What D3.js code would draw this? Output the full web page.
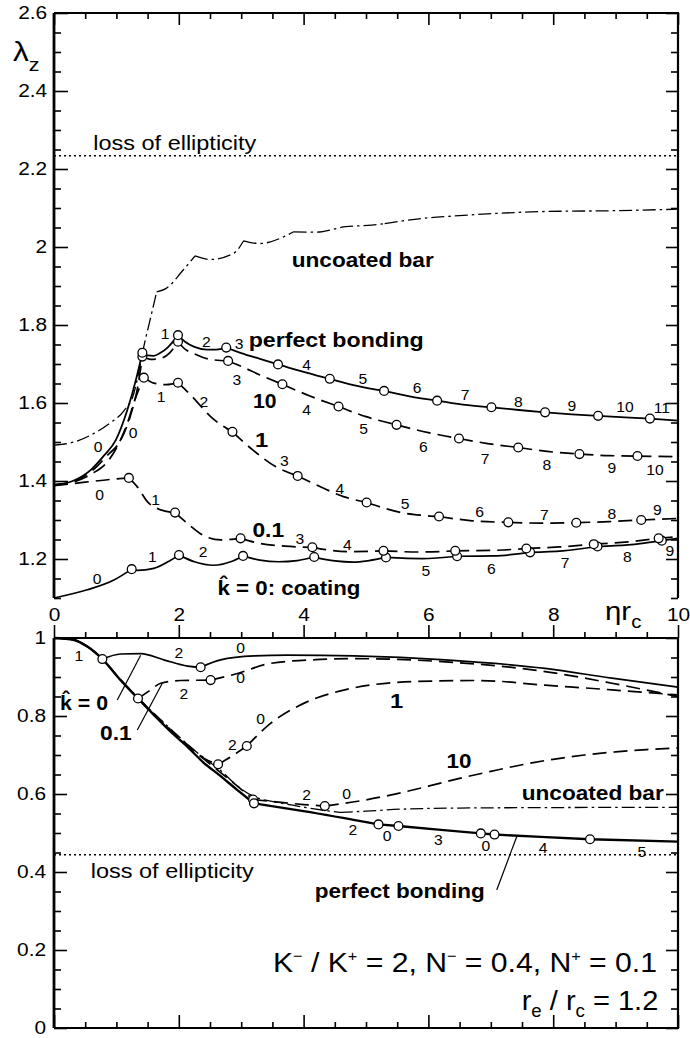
<!DOCTYPE html>
<html>
<head>
<meta charset="utf-8">
<script src="https://cdn.jsdelivr.net/npm/d3@7"></script>
<style>
  html, body { margin: 0; padding: 0; background: #fff; }
  svg { display: block; font-family: "Liberation Sans", Arial, Helvetica, sans-serif; }
</style>
</head>
<body>
<svg id="chart" width="690" height="1038"></svg>
<script>
// ---------- axis ticks ----------
const xTicks = [0, 2, 4, 6, 8, 10];
const yTicksTop = [1.2, 1.4, 1.6, 1.8, 2.0, 2.2, 2.4, 2.6];
const yTicksBottom = [0, 0.2, 0.4, 0.6, 0.8, 1];

// ---------- loss of ellipticity levels ----------
const lossTop = 2.234;
const lossBottom = 0.444;

// ---------- upper panel: lambda_z versus eta*r_c ----------
const topPerfect = [
  [0, 1.39], [0.3, 1.40], [0.6, 1.43], [0.8, 1.465], [0.99, 1.505], [1.175, 1.582], [1.325, 1.667], [1.416, 1.729],
  [1.5, 1.722], [1.6, 1.721], [1.7, 1.728], [1.82, 1.742], [1.92, 1.760], [1.987, 1.774],
  [2.1, 1.757], [2.25, 1.744], [2.45, 1.737], [2.6, 1.737], [2.76, 1.742],
  [3.0, 1.728], [3.3, 1.713], [3.59, 1.699],
  [3.9, 1.684], [4.2, 1.671], [4.42, 1.662],
  [4.8, 1.646], [5.29, 1.631],
  [5.7, 1.617], [6.14, 1.606],
  [6.55, 1.596], [7.01, 1.589],
  [7.45, 1.582], [7.87, 1.576],
  [8.3, 1.571], [8.72, 1.567],
  [9.15, 1.563], [9.55, 1.560],
  [10, 1.555]
];
const topPerfectNodes = [1.416, 1.987, 2.76, 3.59, 4.42, 5.29, 6.14, 7.01, 7.87, 8.72, 9.55];

const topK10 = [
  [0, 1.39], [0.3, 1.398], [0.6, 1.425], [0.85, 1.465], [1.07, 1.505], [1.22, 1.565], [1.34, 1.64], [1.416, 1.719],
  [1.55, 1.712], [1.7, 1.714], [1.85, 1.728], [1.987, 1.757],
  [2.1, 1.738], [2.24, 1.727], [2.5, 1.712], [2.79, 1.708],
  [3.0, 1.694], [3.3, 1.672], [3.66, 1.648],
  [4.1, 1.618], [4.56, 1.591],
  [5.0, 1.565], [5.49, 1.544],
  [6.0, 1.524], [6.49, 1.509],
  [6.95, 1.496], [7.44, 1.486],
  [7.9, 1.476], [8.42, 1.469],
  [8.9, 1.465], [9.35, 1.464],
  [10, 1.462]
];
const topK10Nodes = [1.416, 1.987, 2.79, 3.66, 4.56, 5.49, 6.49, 7.44, 8.42, 9.35];

const topK1 = [
  [0, 1.39], [0.3, 1.397], [0.6, 1.418], [0.88, 1.454], [1.05, 1.50], [1.18, 1.55], [1.3, 1.61], [1.44, 1.665],
  [1.6, 1.651], [1.8, 1.647], [1.987, 1.652],
  [2.1, 1.635], [2.24, 1.612], [2.51, 1.565], [2.86, 1.526],
  [3.19, 1.479], [3.55, 1.437], [3.905, 1.413],
  [4.27, 1.385], [4.64, 1.36], [5.01, 1.345],
  [5.3, 1.33], [5.6, 1.318], [5.9, 1.312], [6.17, 1.309],
  [6.7, 1.298], [7.28, 1.294],
  [7.8, 1.292], [8.37, 1.293],
  [8.9, 1.296], [9.41, 1.300],
  [10, 1.304]
];
const topK1Nodes = [1.44, 1.987, 2.86, 3.905, 5.01, 6.17, 7.28, 8.37, 9.41];

const topK01 = [
  [0, 1.388], [0.5, 1.397], [0.9, 1.404], [1.20, 1.408],
  [1.335, 1.385], [1.496, 1.347], [1.71, 1.326], [1.94, 1.319],
  [2.14, 1.291], [2.40, 1.260], [2.67, 1.249], [2.99, 1.253],
  [3.3, 1.240], [3.7, 1.233], [4.14, 1.230],
  [4.7, 1.219], [5.28, 1.221],
  [5.85, 1.218], [6.43, 1.221],
  [7.0, 1.222], [7.57, 1.227],
  [8.1, 1.231], [8.65, 1.238],
  [9.2, 1.244], [9.69, 1.253],
  [10, 1.257]
];
const topK01Nodes = [1.20, 1.94, 2.99, 4.14, 5.28, 6.43, 7.57, 8.65, 9.69];

const topK0 = [
  [0, 1.1], [0.534, 1.121], [0.96, 1.146], [1.245, 1.174],
  [1.335, 1.171], [1.6, 1.176], [1.87, 1.197], [2.003, 1.210],
  [2.25, 1.193], [2.56, 1.184], [2.83, 1.193], [3.03, 1.208],
  [3.3, 1.197], [3.6, 1.193], [3.9, 1.196], [4.17, 1.205],
  [4.5, 1.195], [4.8, 1.192], [5.05, 1.196], [5.32, 1.204],
  [5.9, 1.201], [6.46, 1.207],
  [7.05, 1.208], [7.63, 1.217],
  [8.15, 1.221], [8.71, 1.232],
  [9.2, 1.236], [9.74, 1.247],
  [10, 1.253]
];
const topK0Nodes = [1.245, 2.003, 3.03, 4.17, 5.32, 6.46, 7.63, 8.71, 9.74];

const topUncoated = [
  [0, 1.492], [0.32, 1.50], [0.64, 1.522], [0.91, 1.55], [1.12, 1.58], [1.28, 1.625], [1.36, 1.68], [1.44, 1.745], [1.54, 1.813], [1.645, 1.885],
  [1.80, 1.894], [2.07, 1.941], [2.26, 1.977],
  [2.51, 1.968], [2.88, 1.984], [3.04, 2.016],
  [3.30, 2.009], [3.68, 2.026], [3.84, 2.039],
  [4.21, 2.038], [4.67, 2.052], [5.09, 2.056], [5.30, 2.060],
  [5.95, 2.074], [6.37, 2.079], [7.07, 2.086], [7.87, 2.091], [8.94, 2.093], [10, 2.097]
];
const topUncoatedKinks = [1.645, 2.26, 3.04, 3.84, 5.30];

// ---------- lower panel ----------
const botPerfect = [
  [0, 1], [0.32, 0.995], [0.534, 0.978], [0.775, 0.946], [1.068, 0.892], [1.346, 0.845], [1.60, 0.803],
  [1.87, 0.760], [2.14, 0.721], [2.40, 0.680], [2.63, 0.651], [2.94, 0.610], [3.205, 0.576],
  [4.0, 0.556], [5.20, 0.522],
  [5.52, 0.518],
  [6.2, 0.508], [6.84, 0.499],
  [7.06, 0.496],
  [7.8, 0.490], [8.59, 0.484],
  [10, 0.478]
];
const botPerfectNodes = [3.205, 5.20, 5.52, 6.84, 7.06, 8.59];

const botK0 = [
  [0, 1], [0.32, 0.995], [0.534, 0.978], [0.775, 0.946],
  [1.068, 0.959], [1.39, 0.960], [1.76, 0.944], [2.14, 0.928], [2.35, 0.925],
  [2.67, 0.944], [3.21, 0.954], [3.74, 0.956], [4.81, 0.954], [6.27, 0.944], [7.87, 0.922], [8.94, 0.897], [10, 0.874]
];
const botK0Nodes = [0.775, 2.35];

const botK01 = [
  [0, 1], [0.32, 0.995], [0.534, 0.978], [0.775, 0.946], [1.068, 0.892], [1.346, 0.845],
  [1.55, 0.867], [1.71, 0.884], [2.03, 0.891], [2.51, 0.892],
  [2.94, 0.909], [3.47, 0.935], [4.27, 0.945], [4.81, 0.947], [6.27, 0.939], [7.87, 0.914], [8.94, 0.884], [10, 0.850]
];
const botK01Nodes = [1.346, 2.51];

const botK1 = [
  [1.346, 0.845], [1.60, 0.805], [1.87, 0.764], [2.14, 0.726], [2.40, 0.692], [2.63, 0.676],
  [2.88, 0.700], [3.09, 0.723],
  [3.47, 0.781], [4.01, 0.833], [4.66, 0.867], [5.73, 0.888], [6.80, 0.891], [7.87, 0.879], [8.94, 0.867], [10, 0.854]
];
const botK1Nodes = [2.63, 3.09];

const botK10 = [
  [1.346, 0.845], [1.60, 0.805], [1.87, 0.764], [2.14, 0.725], [2.40, 0.690], [2.63, 0.660], [2.94, 0.620], [3.19, 0.586],
  [3.6, 0.579], [4.0, 0.573], [4.34, 0.569],
  [5.0, 0.585], [5.5, 0.601], [6.0, 0.620], [6.5, 0.640], [7.0, 0.658], [7.5, 0.675], [8.0, 0.689], [8.5, 0.700], [9.0, 0.708], [9.5, 0.714], [10, 0.718]
];
const botK10Nodes = [3.19, 4.34];

const botUncoated = [
  [1.068, 0.893], [1.346, 0.847], [1.60, 0.807], [1.87, 0.767], [2.14, 0.727], [2.40, 0.693], [2.67, 0.660], [2.99, 0.614], [3.2, 0.594], [3.37, 0.585],
  [3.8, 0.572], [4.2, 0.561], [4.58, 0.553],
  [5.0, 0.556], [5.54, 0.561], [6.5, 0.564], [7.68, 0.565], [10, 0.566]
];
const botUncoatedKinks = [3.37, 4.58];

// ---------- mode numbers written along the branches ----------
const topModeLabels = [
  [0.705, 1.487, "0"], [1.266, 1.523, "0"], [1.78, 1.777, "1"], [2.44, 1.757, "2"], [2.965, 1.753, "3"],
  [4.05, 1.697, "4"], [4.95, 1.662, "5"], [5.82, 1.638, "6"], [6.59, 1.621, "7"], [7.44, 1.603, "8"],
  [8.30, 1.592, "9"], [9.15, 1.590, "10"], [9.74, 1.587, "11"],
  [2.93, 1.659, "3"], [4.05, 1.582, "4"], [4.96, 1.535, "5"], [5.92, 1.488, "6"], [6.91, 1.456, "7"],
  [7.90, 1.441, "8"], [8.94, 1.433, "9"], [9.63, 1.428, "10"],
  [1.715, 1.615, "1"], [2.40, 1.603, "2"], [3.69, 1.452, "3"], [4.58, 1.381, "4"], [5.625, 1.343, "5"],
  [6.82, 1.320, "6"], [7.86, 1.313, "7"], [8.94, 1.317, "8"], [9.67, 1.327, "9"],
  [0.73, 1.364, "0"], [1.63, 1.353, "1"], [3.94, 1.253, "3"], [4.70, 1.237, "4"],
  [0.69, 1.150, "0"], [1.575, 1.206, "1"], [2.39, 1.219, "2"], [5.96, 1.169, "5"], [7.01, 1.176, "6"],
  [8.19, 1.191, "7"], [9.19, 1.206, "8"], [9.87, 1.221, "9"]
];
const botModeLabels = [
  [0.40, 0.954, "1"], [2.00, 0.962, "2"], [2.99, 0.974, "0"],
  [2.08, 0.858, "2"], [2.99, 0.897, "0"],
  [2.86, 0.726, "2"], [3.31, 0.794, "0"],
  [4.05, 0.597, "2"], [4.69, 0.602, "0"],
  [4.79, 0.508, "2"], [5.34, 0.492, "0"], [6.16, 0.482, "3"], [6.92, 0.467, "0"], [7.84, 0.463, "4"], [9.42, 0.452, "5"]
];

// ---------- scales ----------
const svg = d3.select("#chart");
svg.append("rect").attr("width", 690).attr("height", 1038).attr("fill", "#fff");

const x = d3.scaleLinear().domain([0, 10]).range([54, 678]);
const yT = d3.scaleLinear().domain([1.1, 2.6]).range([598, 13]);
const yB = d3.scaleLinear().domain([0, 1]).range([1028, 638]);

const xMinor = d3.range(0, 21).map(i => i / 2).filter(v => !xTicks.includes(v));
const yTopMinor = d3.range(22, 53).map(i => i / 20).filter(v => !yTicksTop.some(t => Math.abs(t - v) < 1e-9));
const yBotMinor = d3.range(0, 21).map(i => i / 20).filter(v => !yTicksBottom.some(t => Math.abs(t - v) < 1e-9));

const TXS = 1.13; // horizontal stretch of the lettering

function styleAxis(g) {
  g.select(".domain").remove();
  g.selectAll(".tick line").attr("stroke", "#000").attr("stroke-width", 1.6);
  g.selectAll(".tick text")
    .attr("fill", "#000")
    .attr("font-size", 18.5)
    .attr("font-family", "Liberation Sans, Arial, sans-serif")
    .attr("transform", `scale(${TXS},1)`);
}

// ---------- axes: upper panel ----------
const gTop = svg.append("g");
gTop.append("g").attr("transform", "translate(54,0)")
  .call(d3.axisLeft(yT).tickValues(yTicksTop).tickSizeInner(-14).tickSizeOuter(0).tickPadding(6).tickFormat(d => String(d)))
  .call(styleAxis);
gTop.append("g").attr("transform", "translate(54,0)")
  .call(d3.axisLeft(yT).tickValues(yTopMinor).tickSizeInner(-7).tickSizeOuter(0).tickFormat(""))
  .call(styleAxis);
gTop.append("g").attr("transform", "translate(678,0)")
  .call(d3.axisRight(yT).tickValues(yTicksTop).tickSizeInner(-12).tickSizeOuter(0).tickFormat(""))
  .call(styleAxis);
gTop.append("g").attr("transform", "translate(678,0)")
  .call(d3.axisRight(yT).tickValues(yTopMinor).tickSizeInner(-7).tickSizeOuter(0).tickFormat(""))
  .call(styleAxis);
gTop.append("g").attr("transform", "translate(0,13)")
  .call(d3.axisTop(x).tickValues(xTicks).tickSizeInner(-12).tickSizeOuter(0).tickFormat(""))
  .call(styleAxis);
gTop.append("g").attr("transform", "translate(0,13)")
  .call(d3.axisTop(x).tickValues(xMinor).tickSizeInner(-6).tickSizeOuter(0).tickFormat(""))
  .call(styleAxis);
// frame (open at the bottom)
gTop.append("path")
  .attr("d", `M${x(0)},${yT(1.1)}V${yT(2.6)}`)
  .attr("stroke", "#000").attr("stroke-width", 2.8).attr("fill", "none");
gTop.append("path")
  .attr("d", `M${x(0)},${yT(2.6)}H${x(10)}V${yT(1.1)}`)
  .attr("stroke", "#000").attr("stroke-width", 2.2).attr("fill", "none");

// ---------- axes: lower panel ----------
const gBot = svg.append("g");
gBot.append("g").attr("transform", "translate(54,0)")
  .call(d3.axisLeft(yB).tickValues(yTicksBottom).tickSizeInner(-13).tickSizeOuter(0).tickPadding(7).tickFormat(d => String(d)))
  .call(styleAxis);
gBot.append("g").attr("transform", "translate(54,0)")
  .call(d3.axisLeft(yB).tickValues(yBotMinor).tickSizeInner(-7).tickSizeOuter(0).tickFormat(""))
  .call(styleAxis);
gBot.append("g").attr("transform", "translate(678,0)")
  .call(d3.axisRight(yB).tickValues(yTicksBottom).tickSizeInner(-12).tickSizeOuter(0).tickFormat(""))
  .call(styleAxis);
gBot.append("g").attr("transform", "translate(678,0)")
  .call(d3.axisRight(yB).tickValues(yBotMinor).tickSizeInner(-7).tickSizeOuter(0).tickFormat(""))
  .call(styleAxis);
// shared x labels sit on the top edge of the lower panel, ticks pointing outward
gBot.append("g").attr("transform", `translate(0,${yB(1)})`)
  .call(d3.axisTop(x).tickValues(xTicks).tickSizeInner(13).tickSizeOuter(0).tickPadding(4.5).tickFormat(d => String(d)))
  .call(styleAxis);
gBot.append("g").attr("transform", `translate(0,${yB(1)})`)
  .call(d3.axisTop(x).tickValues(xMinor).tickSizeInner(6).tickSizeOuter(0).tickFormat(""))
  .call(styleAxis);
gBot.append("g").attr("transform", `translate(0,${yB(0)})`)
  .call(d3.axisBottom(x).tickValues(xTicks).tickSizeInner(-13).tickSizeOuter(0).tickFormat(""))
  .call(styleAxis);
gBot.append("g").attr("transform", `translate(0,${yB(0)})`)
  .call(d3.axisBottom(x).tickValues(xMinor).tickSizeInner(-6).tickSizeOuter(0).tickFormat(""))
  .call(styleAxis);
gBot.append("path")
  .attr("d", `M${x(0)},${yB(0)}V${yB(1)}`)
  .attr("stroke", "#000").attr("stroke-width", 2.8).attr("fill", "none");
gBot.append("path")
  .attr("d", `M${x(0)},${yB(1)}H${x(10)}V${yB(0)}H${x(0)}`)
  .attr("stroke", "#000").attr("stroke-width", 2.2).attr("fill", "none");

// ---------- curve drawing ----------
const DASH = "14,7";
const DASHDOT = "13,4,2.5,4";

function splitAt(pts, nodes) {
  const set = new Set(nodes);
  const out = [];
  let cur = [];
  pts.forEach(p => {
    cur.push(p);
    if (set.has(p[0])) {
      if (cur.length > 1) out.push(cur);
      cur = [p];
    }
  });
  if (cur.length > 1) out.push(cur);
  return out;
}

function drawCurve(g, ys, pts, nodes, style) {
  const line = d3.line().x(d => x(d[0])).y(d => ys(d[1])).curve(d3.curveMonotoneX);
  const segs = splitAt(pts, nodes);
  g.append("path")
    .attr("d", segs.map(s => line(s)).join(""))
    .attr("fill", "none")
    .attr("stroke", "#000")
    .attr("stroke-width", style.width || 1.7)
    .attr("stroke-dasharray", style.dash || null)
    .attr("stroke-linejoin", "round");
}

function drawNodes(g, ys, pts, nodes) {
  const set = new Set(nodes);
  g.selectAll(null)
    .data(pts.filter(p => set.has(p[0])))
    .join("circle")
    .attr("cx", d => x(d[0]))
    .attr("cy", d => ys(d[1]))
    .attr("r", 4.4)
    .attr("fill", "#fff")
    .attr("stroke", "#000")
    .attr("stroke-width", 1.3);
}

// loss of ellipticity lines
svg.append("line")
  .attr("x1", x(0)).attr("x2", x(10)).attr("y1", yT(lossTop)).attr("y2", yT(lossTop))
  .attr("stroke", "#000").attr("stroke-width", 1.5).attr("stroke-dasharray", "2,3");
svg.append("line")
  .attr("x1", x(0)).attr("x2", x(10)).attr("y1", yB(lossBottom)).attr("y2", yB(lossBottom))
  .attr("stroke", "#000").attr("stroke-width", 1.5).attr("stroke-dasharray", "2,3");

// upper panel curves
const cTop = svg.append("g");
drawCurve(cTop, yT, topUncoated, topUncoatedKinks, { dash: DASHDOT, width: 1.3 });
drawCurve(cTop, yT, topK0, topK0Nodes, {});
drawCurve(cTop, yT, topK01, topK01Nodes, { dash: DASH });
drawCurve(cTop, yT, topK1, topK1Nodes, { dash: DASH });
drawCurve(cTop, yT, topK10, topK10Nodes, { dash: DASH });
drawCurve(cTop, yT, topPerfect, topPerfectNodes, { width: 1.8 });
[[topK0, topK0Nodes], [topK01, topK01Nodes], [topK1, topK1Nodes], [topK10, topK10Nodes], [topPerfect, topPerfectNodes]]
  .forEach(([p, n]) => drawNodes(cTop, yT, p, n));

// lower panel curves
const cBot = svg.append("g");
drawCurve(cBot, yB, botUncoated, botUncoatedKinks, { dash: DASHDOT, width: 1.3 });
drawCurve(cBot, yB, botK0, botK0Nodes, {});
drawCurve(cBot, yB, botK01, botK01Nodes, { dash: DASH });
drawCurve(cBot, yB, botK1, botK1Nodes, { dash: DASH });
drawCurve(cBot, yB, botK10, botK10Nodes, { dash: DASH });
drawCurve(cBot, yB, botPerfect, botPerfectNodes, { width: 2.4 });
[[botK0, botK0Nodes], [botK01, botK01Nodes], [botK1, botK1Nodes], [botK10, botK10Nodes], [botPerfect, botPerfectNodes]]
  .forEach(([p, n]) => drawNodes(cBot, yB, p, n));

// ---------- text ----------
function txt(g, px, py, s, o = {}) {
  const sx = o.width ? 1 : (o.sx || TXS);
  const t = g.append("text")
    .attr("transform", `translate(${px},${py}) scale(${sx},1)`)
    .attr("font-size", o.size || 14)
    .attr("font-weight", o.bold ? "bold" : "normal")
    .attr("text-anchor", o.anchor || "start")
    .attr("fill", "#000");
  if (o.baseline) t.attr("dominant-baseline", o.baseline);
  if (s !== null) t.text(s);
  if (o.width) t.attr("textLength", o.width).attr("lengthAdjust", "spacingAndGlyphs");
  return t;
}

// text made of runs raised (+1) or lowered (-1) from the baseline
function runs(t, parts, size, small, shift) {
  let cur = 0;
  parts.forEach(([s, mode]) => {
    const off = mode === 1 ? -shift : (mode === -1 ? shift : 0);
    t.append("tspan")
      .attr("font-size", mode ? small : size)
      .attr("dy", off - cur)
      .text(s);
    cur = off;
  });
}

const gTxt = svg.append("g");

// mode numbers
topModeLabels.forEach(([a, b, s]) =>
  txt(gTxt, x(a), yT(b), s, { size: 14.5, anchor: "middle", baseline: "central", sx: 1.08 }));
botModeLabels.forEach(([a, b, s]) =>
  txt(gTxt, x(a), yB(b), s, { size: 14.5, anchor: "middle", baseline: "central", sx: 1.08 }));

// axis titles
runs(txt(gTxt, 13, 61, null, { size: 28 }), [["λ", 0], ["z", -1]], 28, 19, 10);
runs(txt(gTxt, 605, 620, null, { size: 26 }), [["ηr", 0], ["c", -1]], 26, 18, 8);

// loss of ellipticity
txt(gTxt, x(0.63), yT(2.249), "loss of ellipticity", { size: 20.5, width: 163 });
txt(gTxt, x(0.59), yB(0.385), "loss of ellipticity", { size: 20.5, width: 163 });

// branch names, upper panel
txt(gTxt, x(3.81), yT(1.949), "uncoated bar", { size: 21, bold: true, width: 142 });
txt(gTxt, x(3.12), yT(1.744), "perfect bonding", { size: 21, bold: true, width: 175 });
txt(gTxt, x(3.19), yT(1.587), "10", { size: 21, bold: true, width: 23.5 });
txt(gTxt, x(3.22), yT(1.488), "1", { size: 21, bold: true });
txt(gTxt, x(3.18), yT(1.256), "0.1", { size: 21, bold: true, width: 31.7 });
txt(gTxt, x(2.62), yT(1.108), "k\u0302 = 0: coating", { size: 21, bold: true, width: 143 });

// branch names, lower panel
txt(gTxt, x(7.495), yB(0.585), "uncoated bar", { size: 21, bold: true, width: 142 });
txt(gTxt, x(4.18), yB(0.333), "perfect bonding", { size: 21, bold: true, width: 170 });
txt(gTxt, x(6.29), yB(0.667), "10", { size: 21, bold: true, width: 25 });
txt(gTxt, x(5.385), yB(0.8205), "1", { size: 21, bold: true });
txt(gTxt, x(0.096), yB(0.815), "k\u0302 = 0", { size: 21, bold: true, width: 48 });
txt(gTxt, x(0.737), yB(0.738), "0.1", { size: 21, bold: true, width: 31.7 });

// leader lines
const leaders = [
  [[1.014, 0.841], [1.389, 0.956]],
  [[1.335, 0.764], [1.736, 0.884]],
  [[7.095, 0.354], [7.415, 0.4905]]
];
gTxt.selectAll(null).data(leaders).join("line")
  .attr("x1", d => x(d[0][0])).attr("y1", d => yB(d[0][1]))
  .attr("x2", d => x(d[1][0])).attr("y2", d => yB(d[1][1]))
  .attr("stroke", "#000").attr("stroke-width", 1.2);

// parameter block
runs(txt(gTxt, 273, 972, null, { size: 28, width: 384 }),
  [["K", 0], ["−", 1], [" / K", 0], ["+", 1], [" = 2, N", 0], ["−", 1], [" = 0.4, N", 0], ["+", 1], [" = 0.1", 0]],
  28, 15, 11);
runs(txt(gTxt, 521.7, 1010, null, { size: 28, width: 136.6 }),
  [["r", 0], ["e", -1], [" / r", 0], ["c", -1], [" = 1.2", 0]],
  28, 18, 7);
</script>
</body>
</html>
